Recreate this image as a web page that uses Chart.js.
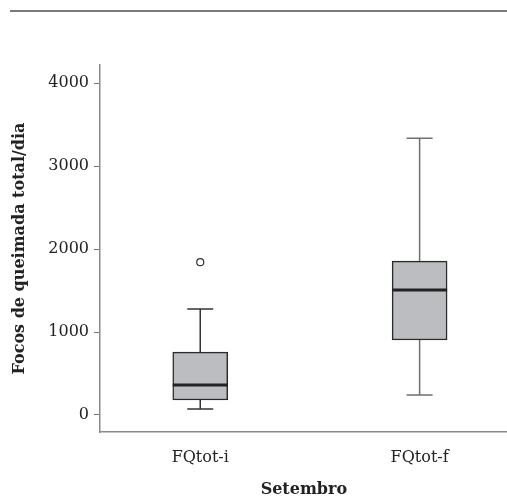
<!DOCTYPE html>
<html><head><meta charset="utf-8">
<script src="https://cdn.jsdelivr.net/npm/chart.js@4.4.1/dist/chart.umd.min.js"></script>
<style>
html,body{margin:0;padding:0;background:#fff;overflow:hidden;}
#wrap{position:relative;width:507px;height:499px;overflow:hidden;}
#rule{position:absolute;left:10px;top:10px;width:497px;border-top:2px solid #7a7a7a;z-index:2;}
canvas{position:absolute;left:0;top:0;}
</style></head>
<body><div id="wrap"><div id="rule"></div><canvas id="c" width="513" height="499"></canvas></div>
<script>
const categories = ["FQtot-i", "FQtot-f"];
const positions = [1, 2];
const whiskerLow = [72, 241];
const q1 = [181, 904];
const median = [361, 1506];
const q3 = [759, 1855];
const whiskerHigh = [1277, 3337];
const outliers = [[1843], []];
const yTicks = [0, 1000, 2000, 3000, 4000];

const boxData = positions.map((p, i) => ({x: p, y: [q1[i], q3[i]]}));
const outlierData = [];
outliers.forEach((arr, i) => arr.forEach(v => outlierData.push({x: positions[i], y: v})));

const serif = "'DejaVu Serif', 'Liberation Serif', serif";

const boxPlugin = {
  id: 'boxparts',
  beforeDatasetsDraw(chart) {
    const {ctx, scales: {x, y}} = chart;
    ctx.save();
    positions.forEach((p, i) => {
      const cx = x.getPixelForValue(p);
      const half = 13;
      ctx.strokeStyle = i === 0 ? '#333' : '#6f6f6f';
      ctx.lineWidth = 1.5;
      ctx.beginPath();
      ctx.moveTo(cx, y.getPixelForValue(whiskerHigh[i]));
      ctx.lineTo(cx, y.getPixelForValue(q3[i]));
      ctx.moveTo(cx, y.getPixelForValue(whiskerLow[i]));
      ctx.lineTo(cx, y.getPixelForValue(q1[i]));
      ctx.moveTo(cx - half, y.getPixelForValue(whiskerHigh[i]));
      ctx.lineTo(cx + half, y.getPixelForValue(whiskerHigh[i]));
      ctx.moveTo(cx - half, y.getPixelForValue(whiskerLow[i]));
      ctx.lineTo(cx + half, y.getPixelForValue(whiskerLow[i]));
      ctx.stroke();
    });
    ctx.restore();
  },
  afterDatasetsDraw(chart) {
    const {ctx, scales: {x, y}} = chart;
    const meta = chart.getDatasetMeta(0);
    ctx.save();
    positions.forEach((p, i) => {
      const bar = meta.data[i];
      const w = bar.width;
      const cx = x.getPixelForValue(p);
      ctx.strokeStyle = '#222';
      ctx.lineWidth = 3;
      ctx.beginPath();
      const my = y.getPixelForValue(median[i]);
      ctx.moveTo(cx - w / 2, my);
      ctx.lineTo(cx + w / 2, my);
      ctx.stroke();
    });
    ctx.restore();
  }
};

new Chart(document.getElementById('c'), {
  type: 'bar',
  data: {
    datasets: [
      {
        type: 'bar',
        data: boxData,
        backgroundColor: '#bcbdc1',
        borderColor: '#2a2a2a',
        borderWidth: 1.5,
        borderSkipped: false,
        barThickness: 55,
        order: 2
      },
      {
        type: 'scatter',
        data: outlierData,
        pointStyle: 'circle',
        pointRadius: 3.5,
        pointBackgroundColor: '#fff',
        pointBorderColor: '#333',
        pointBorderWidth: 1.2,
        order: 1
      }
    ]
  },
  options: {
    responsive: false,
    animation: false,
    events: [],
    layout: {padding: {top: 65, right: 0, left: 10, bottom: 0}},
    plugins: {legend: {display: false}, tooltip: {enabled: false}},
    scales: {
      x: {
        type: 'linear',
        offset: false,
        min: 0.543,
        max: 2.402,
        grid: {display: false, drawTicks: false},
        border: {display: true, color: '#8a8a8a', width: 1.5},
        afterBuildTicks(s) { s.ticks = positions.map(v => ({value: v})); },
        afterFit(s) { s.height = 67; s.paddingRight = 0; s.paddingLeft = 0; },
        ticks: {
          color: '#222',
          font: {family: serif, size: 16},
          padding: 16,
          callback: (v) => categories[positions.indexOf(v)] ?? ''
        },
        title: {
          display: true, text: 'Setembro', color: '#222',
          font: {family: serif, size: 16, weight: 'bold'},
          padding: {top: 2, bottom: 0}
        }
      },
      y: {
        type: 'linear',
        min: -205,
        max: 4220,
        grid: {display: true, drawOnChartArea: false, drawTicks: true, tickLength: 6, color: '#777', lineWidth: 1},
        border: {display: true, color: '#8a8a8a', width: 1.5},
        afterBuildTicks(s) { s.ticks = yTicks.map(v => ({value: v})); },
        afterFit(s) { s.width = 90; s.paddingTop = 0; s.paddingBottom = 0; },
        ticks: {
          color: '#222',
          font: {family: serif, size: 16},
          padding: 5,
          callback: (v) => String(v)
        },
        title: {
          display: true, text: 'Focos de queimada total/dia', color: '#222',
          font: {family: serif, size: 16, weight: 'bold'},
          padding: {top: 0, bottom: 8}
        }
      }
    }
  },
  plugins: [boxPlugin]
});
</script>
</body></html>
